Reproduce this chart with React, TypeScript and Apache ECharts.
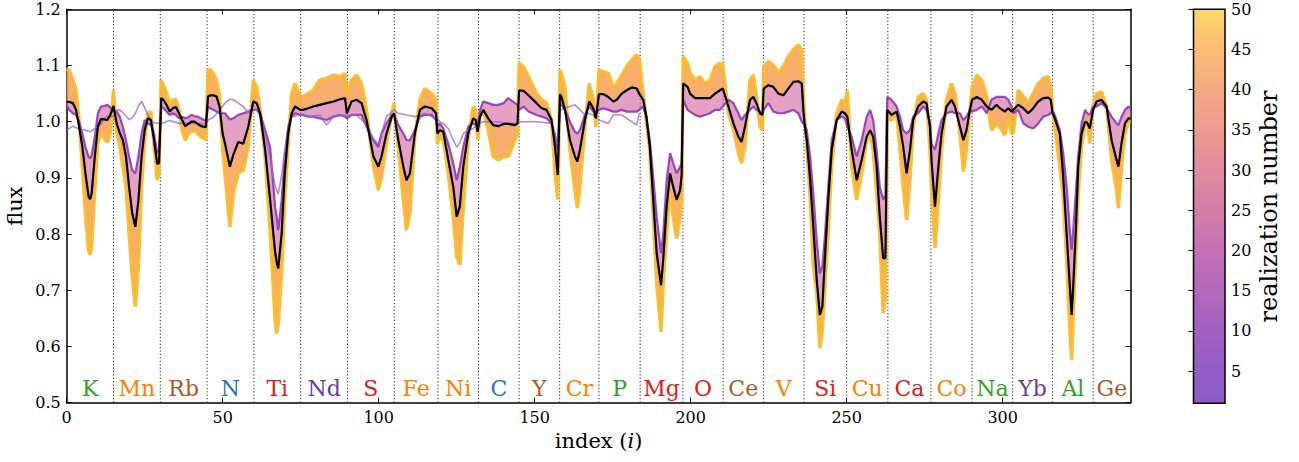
import React, { useEffect, useRef } from "react";
import * as echarts from "echarts";

// ---------------- data ----------------
// pixel index positions (one row per element window)
const pixelIndex = [
  0, 1, 2, 3, 4, 5, 6, 7, 7.5, 8, 9, 10, 11, 12, 13, 14, 15,
  16, 17, 18, 19, 20, 21, 22, 23, 24, 25, 26, 27, 28, 29, 29.6,
  30.3, 31, 32, 33, 34, 35, 36, 37, 38, 39, 40, 41, 42, 43, 44, 44.6,
  45.3, 46, 47, 48, 49, 50, 50.7, 52.3, 53.4, 55, 56.6, 58.2, 59.8,
  60.9, 62, 63.6, 65.2, 66.8, 67.3, 67.8, 68.9, 69.9, 71, 72.1, 73.2, 74.9,
  75.8, 77.4, 79, 81.1, 83.3, 85.5, 87.6, 89.2, 89.8,
  91.3, 92.9, 94.5, 96.1, 98.3, 99.9, 100.9, 102.5, 104.2, 104.9,
  106.3, 107.9, 108.9, 110, 111.6, 113.2, 114.8, 117, 118.4, 118.8,
  119.6, 120.7, 122.3, 123.9, 125, 126, 127.1, 128.7, 130.3, 131.1, 131.7,
  132.5, 133.5, 135.1, 136.7, 138.3, 140, 141.5, 143.7, 144.5,
  145, 146.4, 148, 150.6, 152.2, 153.8, 155.4, 156.5, 157.4,
  158.1, 158.6, 159.7, 161.3, 162.9, 163.7, 164.5, 166.1, 167.5, 168.8, 169.6,
  170.6, 172, 173.6, 175.2, 176.3, 177.9, 179.5, 181.1, 182.7, 183.5,
  184.8, 185.8, 186.9, 188, 189.1, 190.5, 191.2, 192.3, 193.4, 194.4, 195.5, 196.6, 197.1,
  197.6, 199, 199.8, 201.4, 203, 204.6, 206.2, 207.8, 209.4, 210.3,
  212.1, 213.7, 215.3, 216.3, 217.4, 219, 220.1, 221.1, 222.2, 223,
  223.4, 224.9, 226.5, 228.1, 229.7, 231.3, 232.9, 234.5, 235.6, 236.1,
  236.6, 237.2, 238.3, 239.3, 240.4, 241.4, 242.2, 243, 244.1, 245.2, 246.8, 248.4, 249.4,
  250.2, 251.6, 253.2, 254.8, 256.4, 257.5, 258.5, 259.6, 260.6, 261.7, 262.4,
  263, 264.4, 266, 267.1, 268.1, 269.2, 270.3, 271.3, 272.9, 274.5, 275.6, 276.7,
  277.2, 278.3, 279.4, 280.4, 282, 283.6, 284.7, 286.3, 287.4, 288.4, 289.5,
  290.2, 291.7, 293.3, 294.9, 296.4, 298, 299.1, 300.7, 301.8, 302.8,
  303.4, 305, 306.6, 308.2, 309.8, 311.4, 313, 314.6, 315.4,
  316, 316.7, 318.3, 319.4, 320.5, 321.6, 322.1, 322.6, 323.5, 324.2, 325.3, 326.4, 327.1, 327.9,
  329, 330.1, 331.7, 333.3, 334.9, 336.5, 337.1, 338.1, 339.2, 340.3, 341,
];

// mean spectrum (black line)
const meanFlux = [
  1.036, 1.035, 1.033, 1.021, 0.991, 0.956, 0.908, 0.867, 0.862, 0.872, 0.938, 0.991, 1.005, 1.004, 1.003, 1.012, 1.028,
  0.997, 0.980, 0.967, 0.938, 0.884, 0.837, 0.813, 0.861, 0.938, 0.985, 1.006, 1.003, 0.967, 0.925, 0.926,
  1.042, 1.039, 1.030, 1.018, 1.024, 1.026, 1.015, 1.003, 0.992, 0.996, 1.000, 1.000, 0.996, 0.992, 0.991, 0.990,
  1.045, 1.047, 1.047, 1.045, 1.027, 0.978, 0.962, 0.920, 0.941, 0.964, 0.961, 0.991, 1.036,
  1.033, 1.015, 0.950, 0.861, 0.768, 0.750, 0.739, 0.801, 0.908, 0.979, 1.015, 1.027, 1.021,
  1.021, 1.024, 1.027, 1.030, 1.033, 1.036, 1.040, 1.042, 1.015,
  1.036, 1.039, 1.033, 1.003, 0.938, 0.920, 0.938, 0.979, 1.009, 1.015,
  0.967, 0.920, 0.896, 0.908, 0.979, 1.021, 1.027, 1.024, 1.015, 0.979,
  0.985, 0.982, 0.932, 0.884, 0.831, 0.849, 0.920, 0.979, 1.006, 1.003, 0.982,
  1.009, 1.021, 1.006, 0.994, 0.992, 0.996, 0.996, 0.994, 0.997,
  1.056, 1.055, 1.047, 1.033, 1.024, 1.021, 1.003, 0.956, 0.905,
  1.049, 1.044, 1.021, 0.967, 0.938, 0.929, 0.950, 1.003, 1.036, 1.024, 1.006,
  1.049, 1.049, 1.044, 1.036, 1.039, 1.050, 1.056, 1.061, 1.059, 1.050,
  1.039, 1.009, 0.955, 0.861, 0.766, 0.709, 0.755, 0.849, 0.908, 0.884, 0.861, 0.878, 0.905,
  1.068, 1.062, 1.050, 1.042, 1.042, 1.042, 1.042, 1.050, 1.056, 1.059,
  1.027, 0.997, 0.973, 0.964, 0.991, 1.039, 1.044, 1.033, 1.015, 1.012,
  1.059, 1.065, 1.062, 1.050, 1.047, 1.059, 1.071, 1.072, 1.068, 1.021,
  0.991, 0.967, 0.896, 0.813, 0.718, 0.656, 0.671, 0.754, 0.861, 0.950, 1.003, 1.018, 1.015,
  1.009, 0.950, 0.896, 0.932, 0.973, 0.985, 0.973, 0.920, 0.831, 0.757, 0.757,
  1.021, 1.012, 1.018, 0.991, 0.956, 0.908, 0.950, 1.003, 1.027, 1.036, 1.033, 0.991,
  0.930, 0.849, 0.920, 0.979, 1.027, 1.039, 1.027, 0.991, 0.967, 0.985, 1.021,
  1.039, 1.044, 1.039, 1.027, 1.021, 1.030, 1.024, 1.018, 1.024, 1.018,
  1.021, 1.030, 1.024, 1.015, 1.024, 1.036, 1.042, 1.043, 1.039,
  1.015, 1.006, 0.979, 0.902, 0.801, 0.700, 0.656, 0.706, 0.813, 0.920, 0.979, 1.000, 0.998, 0.988,
  1.021, 1.036, 1.039, 1.027, 0.967, 0.932, 0.920, 0.962, 0.997, 1.006, 1.006,
];

// most extreme realization (yellow, realization ~50)
const extremeFlux = [
  1.095, 1.089, 1.074, 1.056, 1.000, 0.920, 0.837, 0.772, 0.763, 0.778, 0.878, 0.961, 0.982, 0.970, 0.963, 0.979, 1.056,
  0.982, 0.956, 0.920, 0.884, 0.801, 0.724, 0.671, 0.742, 0.884, 0.967, 1.015, 1.018, 0.956, 0.896, 0.908,
  1.074, 1.065, 1.050, 1.033, 1.039, 1.039, 1.021, 0.985, 0.967, 0.979, 0.982, 0.985, 0.979, 0.973, 0.970, 0.968,
  1.092, 1.092, 1.086, 1.074, 1.045, 0.950, 0.908, 0.813, 0.872, 0.908, 0.914, 0.956, 1.074,
  1.062, 1.021, 0.938, 0.804, 0.646, 0.623, 0.640, 0.730, 0.861, 0.961, 1.050, 1.068, 1.045,
  1.045, 1.050, 1.056, 1.074, 1.077, 1.083, 1.080, 1.086, 1.050,
  1.074, 1.083, 1.068, 1.021, 0.920, 0.878, 0.902, 0.961, 1.015, 1.033,
  0.950, 0.861, 0.807, 0.837, 0.973, 1.039, 1.059, 1.050, 1.039, 0.960,
  0.975, 0.967, 0.908, 0.830, 0.760, 0.745, 0.846, 0.967, 1.027, 1.021, 0.967,
  1.009, 1.021, 0.985, 0.938, 0.932, 0.938, 0.938, 0.967, 0.979,
  1.104, 1.098, 1.080, 1.050, 1.039, 1.033, 1.003, 0.908, 0.861,
  1.092, 1.085, 1.062, 0.950, 0.878, 0.846, 0.884, 0.991, 1.068, 1.039, 0.991,
  1.092, 1.089, 1.086, 1.062, 1.068, 1.083, 1.098, 1.110, 1.119, 1.112,
  1.050, 1.000, 0.950, 0.831, 0.712, 0.626, 0.712, 0.801, 0.878, 0.831, 0.792, 0.830, 0.860,
  1.116, 1.104, 1.086, 1.074, 1.080, 1.068, 1.074, 1.098, 1.104, 1.101,
  1.015, 0.985, 0.944, 0.926, 0.956, 1.074, 1.083, 1.045, 0.991, 0.985,
  1.098, 1.107, 1.101, 1.086, 1.098, 1.116, 1.128, 1.137, 1.128, 1.050,
  1.000, 0.960, 0.861, 0.742, 0.695, 0.597, 0.629, 0.703, 0.807, 0.920, 1.015, 1.039, 1.030,
  1.056, 0.920, 0.861, 0.908, 0.967, 0.979, 0.950, 0.871, 0.800, 0.659, 0.683,
  1.009, 1.003, 1.015, 0.950, 0.884, 0.825, 0.896, 0.991, 1.044, 1.050, 1.039, 0.950,
  0.880, 0.775, 0.861, 0.950, 1.039, 1.068, 1.050, 0.979, 0.911, 0.950, 1.021,
  1.060, 1.083, 1.074, 1.045, 0.985, 0.997, 0.991, 0.976, 1.009, 0.979,
  0.980, 1.056, 1.045, 1.033, 1.050, 1.068, 1.077, 1.080, 1.062,
  1.021, 0.991, 0.920, 0.865, 0.754, 0.623, 0.576, 0.653, 0.770, 0.872, 0.956, 0.997, 1.009, 0.961,
  1.030, 1.050, 1.053, 1.027, 0.932, 0.878, 0.846, 0.920, 0.979, 1.000, 1.000,
];

// mildest realizations of the main bundle (purple, realization ~2)
const mildFlux = [
  1.027, 1.020, 1.015, 1.012, 1.000, 0.979, 0.955, 0.938, 0.935, 0.940, 0.973, 1.015, 1.027, 1.028, 1.030, 1.025, 1.018,
  1.018, 1.009, 0.991, 0.967, 0.938, 0.914, 0.908, 0.938, 0.979, 1.003, 0.997, 0.994, 0.979, 0.944, 0.950,
  1.027, 1.024, 1.018, 1.012, 1.015, 1.012, 1.006, 1.009, 1.006, 1.008, 1.012, 1.010, 1.009, 1.006, 1.003, 1.002,
  1.027, 1.024, 1.021, 1.018, 1.015, 1.015, 1.015, 1.004, 1.006, 1.012, 1.015, 1.018, 1.021,
  1.021, 1.015, 0.985, 0.955, 0.849, 0.830, 0.807, 0.861, 0.938, 0.991, 1.009, 1.015, 1.012,
  1.012, 1.009, 1.009, 1.006, 1.003, 1.009, 1.012, 1.009, 1.006,
  1.012, 1.012, 1.012, 0.991, 0.967, 0.955, 0.979, 0.997, 1.012, 1.012,
  0.994, 0.979, 0.967, 0.967, 0.985, 1.009, 1.012, 1.012, 1.003, 0.991,
  0.997, 0.988, 0.961, 0.926, 0.896, 0.920, 0.955, 0.991, 0.997, 0.994, 0.994,
  1.021, 1.036, 1.033, 1.030, 1.030, 1.033, 1.042, 1.033, 1.030,
  1.021, 1.027, 1.018, 1.012, 1.009, 1.006, 0.997, 0.975, 0.950,
  1.033, 1.030, 1.021, 1.000, 0.982, 0.979, 0.985, 1.012, 1.027, 1.018, 1.015,
  1.021, 1.024, 1.021, 1.018, 1.018, 1.021, 1.018, 1.018, 1.018, 1.021,
  1.027, 1.009, 0.967, 0.902, 0.831, 0.766, 0.800, 0.896, 0.944, 0.926, 0.908, 0.920, 0.926,
  1.039, 1.021, 1.018, 1.012, 1.009, 1.012, 1.015, 1.021, 1.021, 1.027,
  1.039, 1.033, 1.015, 1.003, 1.012, 1.021, 1.027, 1.021, 1.018, 1.015,
  1.021, 1.033, 1.018, 1.015, 1.015, 1.018, 1.021, 1.015, 1.000, 0.997,
  0.994, 0.985, 0.938, 0.872, 0.789, 0.730, 0.742, 0.795, 0.884, 0.967, 1.003, 1.009, 1.006,
  0.991, 0.973, 0.938, 0.967, 1.009, 1.021, 1.003, 0.950, 0.884, 0.861, 0.870,
  1.044, 1.039, 1.027, 1.009, 0.985, 0.979, 0.985, 1.009, 1.015, 1.027, 1.021, 0.997,
  0.960, 0.950, 0.979, 1.003, 1.015, 1.018, 1.015, 1.015, 1.003, 1.009, 1.021,
  1.018, 1.021, 1.027, 1.015, 1.039, 1.044, 1.044, 1.044, 1.039, 1.027,
  1.015, 1.021, 0.997, 0.991, 0.988, 0.997, 1.009, 1.012, 1.015,
  1.018, 1.012, 0.985, 0.944, 0.884, 0.800, 0.772, 0.807, 0.878, 0.938, 0.997, 1.021, 1.015, 1.012,
  1.027, 1.027, 1.033, 1.024, 1.009, 0.997, 0.994, 1.009, 1.021, 1.027, 1.024,
];

// realization 1 (nearly flat outlier, visible in the first half)
const outlierIndex = [
  0, 2, 4, 6, 7.5, 9, 11, 12, 13, 15, 16, 17, 18, 19, 20, 21, 22, 23, 24, 25,
  26, 27, 28, 29.6, 30.3, 33, 36, 40, 44.6, 45.3, 47, 49, 50.7, 52.3, 53.4, 55, 56.6, 58.2, 59.8, 60.9,
  62, 63.6, 65.2, 66.8, 67.8, 68.9, 69.9, 71, 72.1, 74.9, 77.4, 81.1, 83.3, 85.5, 89.2, 92.9, 96.1, 98.3, 99.9, 100.9,
  102.5, 104.2, 104.9, 106.3, 108.9, 111.6, 114.8, 117, 118.8, 119.6, 120.7, 122.3, 123.9, 125, 126, 127.1, 128.7, 130.3, 131.7, 133.5,
  138.3, 141.5, 144.5, 145, 150.6, 155.4, 156.5, 157.4, 158.1, 159.7, 161.3, 162.9, 164.5, 166.1, 167.5, 169.6, 170.6, 173.6, 175.2, 177.9,
  179.5, 181.1, 182.7, 183.5,
];
const outlierFlux = [
  0.985, 0.992, 0.987, 0.985, 0.982, 0.988, 0.995, 1.006, 1.010, 1.009, 1.020, 1.021, 1.016, 1.010, 1.004, 1.007, 1.015, 1.028, 1.036, 1.025,
  1.012, 1.002, 0.998, 0.997, 0.997, 1.002, 0.997, 0.997, 0.996, 1.003, 1.008, 1.020, 1.033, 1.040, 1.039, 1.033, 1.027, 1.015, 1.020, 1.021,
  1.009, 0.975, 0.935, 0.885, 0.871, 0.905, 0.950, 0.990, 1.009, 1.012, 1.009, 1.012, 0.994, 1.009, 1.012, 1.012, 0.995, 0.970, 0.960, 0.980,
  1.009, 1.018, 1.021, 1.015, 1.012, 1.009, 1.015, 1.009, 1.005, 1.000, 0.997, 0.988, 0.967, 0.955, 0.962, 0.979, 0.985, 0.988, 0.995, 1.000,
  1.000, 0.997, 0.997, 1.000, 1.000, 0.997, 0.980, 0.960, 1.020, 1.025, 1.027, 1.030, 1.021, 1.012, 1.015, 1.009, 1.003, 0.997, 1.012, 1.012,
  1.006, 1.000, 0.994, 1.015,
];

const elementNames = ["K", "Mn", "Rb", "N", "Ti", "Nd", "S", "Fe", "Ni", "C", "Y", "Cr", "P", "Mg", "O", "Ce", "V", "Si", "Cu", "Ca", "Co", "Na", "Yb", "Al", "Ge"];
const elementColors = [
  "#33a02c", "#ff7f00", "#b15928", "#1f78b4", "#e31a1c", "#6a3d9a", "#e31a1c", "#ff7f00", "#ff7f00", "#1f78b4",
  "#b15928", "#ff7f00", "#33a02c", "#e31a1c", "#e31a1c", "#b15928", "#ff7f00", "#e31a1c", "#ff7f00", "#e31a1c",
  "#ff7f00", "#33a02c", "#6a3d9a", "#33a02c", "#b15928",
];
const windowEdges = [0, 15, 30, 45, 60, 75, 90, 105, 119, 132, 145, 158, 170.6, 183.8, 197.5, 210.4, 223.3, 236.3, 250, 263.2, 277, 290.2, 303.2, 316, 329, 341];

const xTickValues = [0, 50, 100, 150, 200, 250, 300];
const colorbarTickValues = [5, 10, 15, 20, 25, 30, 35, 40, 45, 50];
const colorbarStops = [
  { r: 1, c: "#8a5cc9" },
  { r: 10, c: "#a160c4" },
  { r: 20, c: "#c470b4" },
  { r: 25, c: "#d47ea8" },
  { r: 30, c: "#e08b9e" },
  { r: 35, c: "#eb9b8f" },
  { r: 40, c: "#f4a982" },
  { r: 45, c: "#fbbd72" },
  { r: 50, c: "#fdd76a" },
];

// ---------------- styling ----------------
const FONT = "DejaVu Serif";
const X_MAX = 341;

function buildOption(): any {
  const lineData = (ys: number[], xs: number[] = pixelIndex) => xs.map((x, i) => [x, ys[i]]);

  const band = (upper: number[], lower: number[], fill: string, z: number) => ({
    type: "custom",
    xAxisIndex: 0,
    yAxisIndex: 0,
    silent: true,
    z,
    data: [[0, 1]],
    renderItem: (_p: any, api: any) => {
      const pts: number[][] = [];
      for (let i = 0; i < pixelIndex.length; i++) pts.push(api.coord([pixelIndex[i], upper[i]]));
      for (let i = pixelIndex.length - 1; i >= 0; i--) pts.push(api.coord([pixelIndex[i], lower[i]]));
      return { type: "polygon", shape: { points: pts }, style: { fill } };
    },
  });

  const axisLine = { show: true, onZero: false, lineStyle: { color: "#000", width: 1.5 } };
  const tick = { show: true, inside: true, length: 5, lineStyle: { color: "#000", width: 1 } };
  const label = { color: "#000", fontFamily: FONT, fontSize: 16 };

  return {
    animation: false,
    backgroundColor: "#fff",
    textStyle: { fontFamily: FONT },
    grid: [
      { left: 66.7, top: 9.3, width: 1063.9, height: 393.4 },
      { left: 1193.5, top: 9.3, width: 31.5, height: 394 },
    ],
    xAxis: [
      {
        type: "value", gridIndex: 0, min: 0, max: X_MAX, interval: 50, position: "bottom",
        axisLine, axisTick: { ...tick, customValues: xTickValues },
        axisLabel: { ...label, margin: 7, customValues: xTickValues },
        splitLine: { show: false },
      },
      {
        type: "value", gridIndex: 0, min: 0, max: X_MAX, interval: 50, position: "top",
        axisLine, axisTick: { ...tick, customValues: xTickValues },
        axisLabel: { show: false }, splitLine: { show: false },
      },
      { type: "value", gridIndex: 1, min: 0, max: 1, show: false },
    ],
    yAxis: [
      {
        type: "value", gridIndex: 0, min: 0.5, max: 1.2, interval: 0.1, position: "left",
        axisLine, axisTick: tick,
        axisLabel: { ...label, margin: 6, formatter: (v: number) => v.toFixed(1) },
        splitLine: { show: false },
      },
      {
        type: "value", gridIndex: 0, min: 0.5, max: 1.2, interval: 0.1, position: "right",
        axisLine, axisTick: tick, axisLabel: { show: false }, splitLine: { show: false },
      },
      {
        type: "value", gridIndex: 1, min: 1, max: 50, position: "right",
        axisLine: { show: false },
        axisTick: { ...tick, customValues: colorbarTickValues },
        axisLabel: { ...label, margin: 6, customValues: colorbarTickValues },
        splitLine: { show: false },
      },
    ],
    graphic: [
      {
        type: "text", x: 15, y: 206, rotation: Math.PI / 2, silent: true,
        style: { text: "flux", fontFamily: FONT, fontSize: 21, fill: "#000", textAlign: "center", textVerticalAlign: "middle" },
      },
      {
        type: "text", x: 598.6, y: 441, silent: true,
        style: {
          text: "index ({it|i})", fontFamily: FONT, fontSize: 21, fill: "#000",
          textAlign: "center", textVerticalAlign: "middle",
          rich: { it: { fontFamily: FONT, fontSize: 21, fontStyle: "italic", fill: "#000" } },
        },
      },
      {
        type: "text", x: 1269, y: 206.5, rotation: Math.PI / 2, silent: true,
        style: { text: "realization number", fontFamily: FONT, fontSize: 24, fill: "#000", textAlign: "center", textVerticalAlign: "middle" },
      },
    ],
    series: [
      // element window separators
      {
        type: "custom", xAxisIndex: 0, yAxisIndex: 0, silent: true, z: 1, data: [[0, 1]],
        renderItem: (_p: any, api: any) => ({
          type: "group",
          children: windowEdges.slice(1, -1).map((x) => {
            const a = api.coord([x, 0.5]);
            const b = api.coord([x, 1.2]);
            return {
              type: "line",
              shape: { x1: a[0], y1: a[1], x2: b[0], y2: b[1] },
              style: { stroke: "#222", lineWidth: 1, lineDash: [1.2, 2.2] },
            };
          }),
        }),
      },
      band(extremeFlux, meanFlux, "rgba(246, 160, 82, 0.85)", 2),
      band(meanFlux, mildFlux, "rgba(212, 104, 158, 0.62)", 3),
      {
        type: "line", xAxisIndex: 0, yAxisIndex: 0, silent: true, z: 4, showSymbol: false,
        data: lineData(extremeFlux),
        lineStyle: { color: "#fbb925", width: 3.5, opacity: 0.9 },
      },
      {
        type: "line", xAxisIndex: 0, yAxisIndex: 0, silent: true, z: 5, showSymbol: false,
        data: lineData(mildFlux),
        lineStyle: { color: "#8a2eb6", width: 2.2, opacity: 0.85 },
      },
      {
        type: "line", xAxisIndex: 0, yAxisIndex: 0, silent: true, z: 6, showSymbol: false,
        data: lineData(outlierFlux, outlierIndex),
        lineStyle: { color: "#9466d4", width: 1.6, opacity: 0.75 },
      },
      {
        type: "line", xAxisIndex: 0, yAxisIndex: 0, silent: true, z: 7, showSymbol: false,
        data: lineData(meanFlux),
        lineStyle: { color: "#000", width: 2.2 },
      },
      // element labels
      {
        type: "custom", xAxisIndex: 0, yAxisIndex: 0, silent: true, z: 8, data: [[0, 1]],
        renderItem: (_p: any, api: any) => ({
          type: "group",
          children: elementNames.map((name, i) => {
            const p = api.coord([(windowEdges[i] + windowEdges[i + 1]) / 2, 0.5]);
            return {
              type: "text",
              x: p[0],
              y: p[1] - 14,
              style: {
                text: name, fill: elementColors[i], fontFamily: FONT, fontSize: 22,
                textAlign: "center", textVerticalAlign: "middle",
              },
            };
          }),
        }),
      },
      // colorbar
      {
        type: "custom", xAxisIndex: 2, yAxisIndex: 2, silent: true, z: 5, data: [[0.5, 25]],
        renderItem: (_p: any, api: any) => {
          const a = api.coord([0, 1]);
          const b = api.coord([1, 50]);
          const stops = colorbarStops.map((s) => ({ offset: (s.r - 1) / 49, color: s.c }));
          return {
            type: "rect",
            shape: { x: a[0], y: b[1], width: b[0] - a[0], height: a[1] - b[1] },
            style: { fill: new echarts.graphic.LinearGradient(0, 1, 0, 0, stops), stroke: "#000", lineWidth: 1.5 },
          };
        },
      },
    ],
  };
}

export default function App() {
  const ref = useRef<HTMLDivElement>(null);
  useEffect(() => {
    if (!ref.current) return;
    const chart = echarts.init(ref.current, null, { renderer: "svg" });
    chart.setOption(buildOption());
    return () => chart.dispose();
  }, []);
  return (
    <div
      ref={ref}
      style={{ position: "fixed", left: 0, top: 0, width: 1299, height: 462, background: "#fff" }}
    />
  );
}
